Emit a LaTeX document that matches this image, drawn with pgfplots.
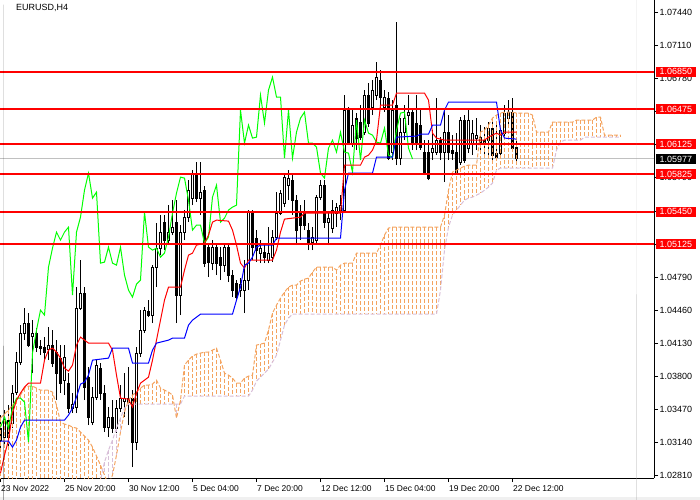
\documentclass[border=0pt]{standalone}
\usepackage{pgfplots}
\pgfplotsset{compat=1.18}
\usepackage{pgfplotstable}
\usepackage{fontspec}
\setmainfont{Liberation Sans}
\definecolor{sandy}{HTML}{F4A460}
\definecolor{thist}{HTML}{D8BFD8}
\definecolor{limeg}{HTML}{00FF00}
\definecolor{bidgray}{HTML}{C0C0C0}

\pgfplotstableread{
x o h l c
0 1.03285 1.03415 1.03065 1.03165
1 1.03195 1.03465 1.03115 1.03365
2 1.03365 1.03515 1.03095 1.03195
3 1.03335 1.03715 1.03285 1.03635
4 1.03645 1.04045 1.03615 1.03945
5 1.03945 1.04315 1.03915 1.04235
6 1.04235 1.04485 1.04165 1.04335
7 1.04335 1.04435 1.04095 1.04115
8 1.04205 1.04365 1.03835 1.04235
9 1.04235 1.04285 1.04045 1.04095
10 1.04105 1.04165 1.04015 1.04085
11 1.04095 1.04195 1.03965 1.04045
12 1.04075 1.04295 1.03965 1.04115
13 1.04115 1.04265 1.03895 1.03935
14 1.04045 1.04165 1.03565 1.03835
15 1.03985 1.04115 1.03635 1.03735
16 1.03765 1.04115 1.03615 1.03995
17 1.03735 1.03835 1.03435 1.03485
18 1.03485 1.03635 1.03435 1.03525
19 1.03495 1.04695 1.03435 1.04485
20 1.04485 1.04965 1.04465 1.04635
21 1.04635 1.04695 1.03565 1.03695
22 1.03795 1.03895 1.03315 1.03395
23 1.03345 1.03695 1.03315 1.03595
24 1.03595 1.03965 1.03565 1.03915
25 1.03885 1.03935 1.03565 1.03635
26 1.03635 1.03715 1.03245 1.03295
27 1.03295 1.03495 1.03195 1.03395
28 1.03395 1.03565 1.03235 1.03285
29 1.03285 1.03565 1.03235 1.03485
30 1.03485 1.03715 1.03445 1.03585
31 1.03555 1.03835 1.03395 1.03585
32 1.03585 1.03895 1.03315 1.03545
33 1.03585 1.03665 1.02895 1.03145
34 1.03145 1.04095 1.03065 1.04035
35 1.04035 1.04465 1.03995 1.04265
36 1.04265 1.04495 1.04235 1.04465
37 1.04455 1.04565 1.04395 1.04415
38 1.04415 1.04915 1.04335 1.04895
39 1.04895 1.05335 1.04695 1.05085
40 1.05085 1.05415 1.05015 1.05245
41 1.05345 1.05415 1.05065 1.05165
42 1.05165 1.05515 1.05115 1.05245
43 1.05245 1.05565 1.05215 1.05295
44 1.05345 1.05565 1.04335 1.04615
45 1.04615 1.05315 1.04415 1.05245
46 1.05245 1.05465 1.05165 1.05395
47 1.05395 1.05765 1.05345 1.05665
48 1.05585 1.05865 1.05515 1.05835
49 1.05815 1.05945 1.05545 1.05585
50 1.05585 1.05945 1.05415 1.05645
51 1.05665 1.05705 1.04895 1.04935
52 1.05095 1.05135 1.04795 1.04945
53 1.04935 1.05165 1.04865 1.05095
54 1.05095 1.05135 1.04815 1.04935
55 1.04995 1.05095 1.04765 1.04915
56 1.04915 1.05135 1.04845 1.05095
57 1.05095 1.05115 1.04745 1.04815
58 1.04815 1.04865 1.04595 1.04665
59 1.04735 1.04765 1.04565 1.04595
60 1.04665 1.04785 1.04595 1.04725
61 1.04665 1.04965 1.04435 1.04765
62 1.04765 1.05465 1.04665 1.05445
63 1.05445 1.05465 1.04965 1.05095
64 1.05185 1.05265 1.04945 1.05065
65 1.05035 1.05165 1.04935 1.05085
66 1.05045 1.05135 1.04935 1.04995
67 1.04965 1.05295 1.04935 1.05035
68 1.04995 1.05265 1.04945 1.05195
69 1.05195 1.05645 1.05165 1.05435
70 1.05435 1.05665 1.05415 1.05635
71 1.05535 1.05835 1.05495 1.05795
72 1.05715 1.05865 1.05565 1.05785
73 1.05765 1.05815 1.05415 1.05565
74 1.05565 1.05615 1.05115 1.05265
75 1.05435 1.05515 1.05165 1.05315
76 1.05435 1.05565 1.05265 1.05315
77 1.05265 1.05335 1.05065 1.05135
78 1.05145 1.05295 1.05065 1.05195
79 1.05165 1.05615 1.05115 1.05595
80 1.05595 1.05765 1.05565 1.05715
81 1.05715 1.05765 1.05285 1.05345
82 1.05345 1.05435 1.05115 1.05385
83 1.05285 1.05565 1.05235 1.05465
84 1.05435 1.05535 1.05295 1.05495
85 1.05465 1.05615 1.05365 1.05515
86 1.05465 1.06615 1.05435 1.06465
87 1.06465 1.06495 1.06115 1.06135
88 1.06135 1.06465 1.06095 1.06315
89 1.06385 1.06435 1.06065 1.06185
90 1.06345 1.06515 1.06165 1.06195
91 1.06245 1.06665 1.06215 1.06615
92 1.06615 1.06735 1.06295 1.06335
93 1.06495 1.06765 1.06415 1.06665
94 1.06615 1.06945 1.06565 1.06795
95 1.06765 1.06865 1.06465 1.06595
96 1.06495 1.06665 1.06445 1.06595
97 1.06585 1.06645 1.05965 1.05985
98 1.06045 1.06565 1.05965 1.06465
99 1.06515 1.07345 1.05915 1.05985
100 1.05985 1.06385 1.05915 1.06245
101 1.06245 1.06515 1.06165 1.06385
102 1.06415 1.06615 1.06315 1.06445
103 1.06445 1.06485 1.06065 1.06135
104 1.06335 1.06615 1.06065 1.06135
105 1.06315 1.06465 1.06065 1.06095
106 1.06045 1.06165 1.05815 1.05835
107 1.06045 1.06165 1.05765 1.05785
108 1.06045 1.06265 1.05965 1.06085
109 1.06045 1.06585 1.06015 1.06165
110 1.06165 1.06195 1.05965 1.06045
111 1.06045 1.06465 1.05745 1.06245
112 1.06245 1.06415 1.05965 1.06045
113 1.06065 1.06215 1.05965 1.06035
114 1.06045 1.06235 1.05835 1.05845
115 1.05945 1.06395 1.05915 1.06365
116 1.06365 1.06415 1.05935 1.05965
117 1.06085 1.06485 1.06035 1.06365
118 1.06135 1.06365 1.06015 1.06235
119 1.06185 1.06385 1.06065 1.06215
120 1.06195 1.06315 1.06065 1.06145
121 1.06165 1.06295 1.06015 1.06135
122 1.06165 1.06345 1.05985 1.06285
123 1.06285 1.06385 1.05965 1.06015
124 1.06035 1.06335 1.05965 1.05995
125 1.06035 1.06315 1.05995 1.06265
126 1.06235 1.06515 1.06195 1.06435
127 1.06385 1.06565 1.06315 1.06445
128 1.06445 1.06585 1.06045 1.06085
129 1.06095 1.06165 1.05935 1.05977
}\candles

\pgfplotstableread{
x a b
0 1.03385 1.02365
1 1.03425 1.02365
2 1.03465 1.02365
3 1.03515 1.02365
4 1.03565 1.02365
5 1.03615 1.02365
6 1.03685 1.02365
7 1.03705 1.02365
8 1.03705 1.02365
9 1.03685 1.02365
10 1.03665 1.02365
11 1.03665 1.02365
12 1.03665 1.02365
13 1.03645 1.02365
14 1.03515 1.02365
15 1.03345 1.02365
16 1.03325 1.02365
17 1.03315 1.02365
18 1.03295 1.02365
19 1.03285 1.02365
20 1.03245 1.02365
21 1.03205 1.02365
22 1.03165 1.02365
23 1.03095 1.02365
24 1.03005 1.02365
25 1.02915 1.02765
26 1.02815 1.02945
27 1.02715 1.03065
28 1.02815 1.03165
29 1.03015 1.03285
30 1.03245 1.03385
31 1.03445 1.03485
32 1.03565 1.03525
33 1.03615 1.03525
34 1.03645 1.03525
35 1.03685 1.03525
36 1.03715 1.03525
37 1.03715 1.03525
38 1.03725 1.03525
39 1.03765 1.03525
40 1.03685 1.03525
41 1.03665 1.03525
42 1.03645 1.03525
43 1.03615 1.03525
44 1.03385 1.03525
45 1.03565 1.03525
46 1.03915 1.03605
47 1.03965 1.03605
48 1.04005 1.03605
49 1.04025 1.03605
50 1.04035 1.03605
51 1.04045 1.03605
52 1.04045 1.03605
53 1.04065 1.03605
54 1.04085 1.03605
55 1.03965 1.03605
56 1.03835 1.03605
57 1.03815 1.03605
58 1.03785 1.03605
59 1.03735 1.03605
60 1.03735 1.03605
61 1.03785 1.03605
62 1.03805 1.03605
63 1.03815 1.03665
64 1.04115 1.03755
65 1.04125 1.03795
66 1.04135 1.03835
67 1.04265 1.03875
68 1.04435 1.03945
69 1.04515 1.04015
70 1.04585 1.04165
71 1.04645 1.04315
72 1.04695 1.04385
73 1.04715 1.04425
74 1.04715 1.04425
75 1.04755 1.04425
76 1.04775 1.04425
77 1.04785 1.04425
78 1.04845 1.04425
79 1.04895 1.04425
80 1.04895 1.04425
81 1.04895 1.04425
82 1.04895 1.04425
83 1.04895 1.04425
84 1.04865 1.04425
85 1.04915 1.04425
86 1.04935 1.04425
87 1.04935 1.04425
88 1.04935 1.04425
89 1.05035 1.04425
90 1.05035 1.04425
91 1.05035 1.04425
92 1.05035 1.04425
93 1.05035 1.04425
94 1.05035 1.04425
95 1.05115 1.04425
96 1.05215 1.04425
97 1.05285 1.04425
98 1.05295 1.04425
99 1.05295 1.04425
100 1.05295 1.04425
101 1.05295 1.04425
102 1.05295 1.04425
103 1.05295 1.04425
104 1.05295 1.04425
105 1.05295 1.04425
106 1.05295 1.04425
107 1.05295 1.04425
108 1.05295 1.04425
109 1.05295 1.04425
110 1.05295 1.04665
111 1.05415 1.05065
112 1.05665 1.05295
113 1.05845 1.05415
114 1.05865 1.05465
115 1.05885 1.05515
116 1.05905 1.05565
117 1.05915 1.05585
118 1.05915 1.05595
119 1.05915 1.05615
120 1.06245 1.05635
121 1.06265 1.05665
122 1.06315 1.05695
123 1.06385 1.05735
124 1.06415 1.05865
125 1.06435 1.05885
126 1.06445 1.05885
127 1.06445 1.05885
128 1.06445 1.05885
129 1.06435 1.05885
130 1.06435 1.05885
131 1.06435 1.05885
132 1.06435 1.05885
133 1.06415 1.05885
134 1.06245 1.05885
135 1.06245 1.05885
136 1.06245 1.05885
137 1.06245 1.05885
138 1.06345 1.05885
139 1.06345 1.06065
140 1.06345 1.06145
141 1.06345 1.06165
142 1.06345 1.06165
143 1.06345 1.06165
144 1.06365 1.06165
145 1.06365 1.06165
146 1.06365 1.06195
147 1.06365 1.06195
148 1.06365 1.06195
149 1.06395 1.06195
150 1.06395 1.06195
151 1.06215 1.06195
152 1.06215 1.06195
153 1.06215 1.06195
154 1.06215 1.06195
155 1.06215 1.06195
}\spans

\pgfplotstableread{
x y
0 1.03295
1 1.03395
2 1.03285
3 1.03485
4 1.03585
5 1.03585
6 1.03545
7 1.03145
8 1.04035
9 1.04265
10 1.04465
11 1.04415
12 1.04895
13 1.05085
14 1.05245
15 1.05165
16 1.05245
17 1.05295
18 1.04615
19 1.05245
20 1.05395
21 1.05665
22 1.05835
23 1.05585
24 1.05645
25 1.04935
26 1.04945
27 1.05095
28 1.04935
29 1.04915
30 1.05095
31 1.04815
32 1.04665
33 1.04595
34 1.04725
35 1.04765
36 1.05445
37 1.05095
38 1.05065
39 1.05085
40 1.04995
41 1.05035
42 1.05195
43 1.05435
44 1.05635
45 1.05795
46 1.05785
47 1.05565
48 1.05265
49 1.05315
50 1.05315
51 1.05135
52 1.05195
53 1.05595
54 1.05715
55 1.05345
56 1.05385
57 1.05465
58 1.05495
59 1.05515
60 1.06465
61 1.06135
62 1.06315
63 1.06185
64 1.06195
65 1.06615
66 1.06335
67 1.06665
68 1.06795
69 1.06595
70 1.06595
71 1.05985
72 1.06465
73 1.05985
74 1.06245
75 1.06385
76 1.06445
77 1.06135
78 1.06135
79 1.06095
80 1.05835
81 1.05785
82 1.06085
83 1.06165
84 1.06045
85 1.06245
86 1.06045
87 1.06035
88 1.05845
89 1.06365
90 1.05965
91 1.06365
92 1.06235
93 1.06215
94 1.06145
95 1.06135
96 1.06285
97 1.06015
98 1.05995
99 1.06265
100 1.06435
101 1.06445
102 1.06085
103 1.05977
}\chikou

\pgfplotstableread{
x y
0 1.02835
1 1.03015
2 1.03165
3 1.03435
4 1.03565
5 1.03635
6 1.03695
7 1.03735
10 1.03735
11 1.03965
12 1.04065
13 1.04085
14 1.04045
15 1.03985
16 1.03885
17 1.03855
18 1.03915
19 1.04115
20 1.04195
21 1.04165
22 1.04135
27 1.04135
28 1.04065
29 1.03815
30 1.03585
32 1.03575
33 1.03495
34 1.03635
35 1.03735
37 1.03795
38 1.03965
39 1.04165
40 1.04365
41 1.04565
42 1.04695
45 1.04695
46 1.04865
47 1.05015
48 1.05035
49 1.05115
51 1.05135
52 1.05215
53 1.05345
54 1.05365
57 1.05355
58 1.05265
59 1.05115
60 1.04935
61 1.04885
62 1.04965
68 1.04965
69 1.05065
70 1.05245
71 1.05375
75 1.05395
76 1.05435
85 1.05435
86 1.05915
90 1.05915
91 1.05995
92 1.06015
93 1.06065
94 1.06165
95 1.06515
98 1.06515
99 1.06635
106 1.06635
107 1.06565
108 1.06235
109 1.06185
111 1.06165
121 1.06165
122 1.06195
124 1.06235
125 1.06215
126 1.06245
129 1.06245
}\tenkan

\pgfplotstableread{
x y
0 1.03155
2 1.03155
3 1.03095
4 1.03165
5 1.03295
6 1.03365
16 1.03365
17 1.03415
18 1.03485
19 1.03595
20 1.03725
21 1.03745
22 1.03815
23 1.03965
27 1.03985
28 1.04085
32 1.04085
33 1.03935
37 1.03935
38 1.04065
39 1.04135
42 1.04165
43 1.04185
46 1.04185
47 1.04315
48 1.04365
49 1.04395
50 1.04425
58 1.04425
59 1.04565
60 1.04695
61 1.04915
62 1.04935
63 1.04995
64 1.05095
65 1.05115
68 1.05115
69 1.05185
85 1.05185
86 1.05665
87 1.05835
93 1.05835
94 1.05995
98 1.05995
99 1.06195
104 1.06205
105 1.06225
107 1.06225
108 1.06315
110 1.06315
111 1.06465
112 1.06545
124 1.06545
125 1.06265
126 1.06185
129 1.06175
}\kijun

\begin{document}
\begin{tikzpicture}
\useasboundingbox (0,0) rectangle (700bp,500bp);
\fill[black!6] (0,0) rectangle (700bp,3.3bp);
\begin{axis}[
  at={(0,500bp)}, anchor=north west,
  scale only axis, width=654bp, height=478bp,
  xmin=-0.125, xmax=163.375, ymin=1.02785, ymax=1.07565,
  axis x line*=bottom, axis y line*=right,
  axis line style={black, line width=1bp, -},
  tick align=outside, major tick length=4bp,
  tick style={black, line width=0.8bp},
  xtick={0,16,32,48,64,80,96,112,128},
  xticklabels={23 Nov 2022,25 Nov 20:00,30 Nov 12:00,5 Dec 04:00,7 Dec 20:00,12 Dec 12:00,15 Dec 04:00,19 Dec 20:00,22 Dec 12:00},
  xticklabel style={anchor=north west, inner sep=0pt, xshift=0.5bp, yshift=-3bp, font=\fontsize{8.5}{10}\selectfont},
  ytick={1.02810,1.03140,1.03470,1.03800,1.04130,1.04460,1.04790,1.05120,1.05450,1.05790,1.06120,1.06450,1.06780,1.07110,1.07440},
  yticklabels={1.02810,1.03140,1.03470,1.03800,1.04130,1.04460,1.04790,1.05120,1.05450,1.05790,1.06120,1.06450,1.06780,1.07110,1.07440},
  yticklabel style={anchor=west, inner sep=0pt, xshift=1.5bp, font=\fontsize{9}{10}\selectfont},
  scaled y ticks=false,
  clip mode=individual,
]
% bid line
\addplot[bidgray, line width=1bp, forget plot] coordinates {(-0.125,1.05977) (163.375,1.05977)};
% candles: wicks
\addplot[draw=none, forget plot, error bars/.cd, y dir=plus, y explicit, error mark=none,
  error bar style={draw=black, line width=1bp, solid}]
  table[x=x, y=l, y error plus expr={\thisrow{h}-\thisrow{l}}] {\candles};
% bodies
\addplot[draw=none, forget plot, error bars/.cd, y dir=plus, y explicit, error mark=none,
  error bar style={draw=black, line width=3bp, solid}]
  table[x=x, y expr={min(\thisrow{o},\thisrow{c})-0.00005}, y error plus expr={abs(\thisrow{c}-\thisrow{o})+0.0001}] {\candles};
% bullish interiors
\addplot[draw=none, forget plot, error bars/.cd, y dir=plus, y explicit, error mark=none,
  error bar style={draw=white, line width=1bp, solid}]
  table[x=x, y expr={\thisrow{o}+0.00005}, y error plus expr={max(\thisrow{c}-\thisrow{o}-0.0001,0)}] {\candles};
% cloud histogram (drawn from the top edge downward)
\addplot[draw=none, forget plot, error bars/.cd, y dir=minus, y explicit, error mark=none,
  error bar style={draw=sandy, line width=1bp, dash pattern=on 4bp off 2bp}]
  table[x=x, y=a, y error minus expr={max(\thisrow{a}-\thisrow{b},0)}] {\spans};
\addplot[draw=none, forget plot, error bars/.cd, y dir=minus, y explicit, error mark=none,
  error bar style={draw=thist, line width=1bp, dash pattern=on 4bp off 2bp}]
  table[x=x, y=b, y error minus expr={max(\thisrow{b}-\thisrow{a},0)}] {\spans};
\addplot[sandy, line width=1bp, dash pattern=on 4bp off 2bp, forget plot] table[x=x, y=a] {\spans};
\addplot[thist, line width=1bp, dash pattern=on 4bp off 2bp, forget plot] table[x=x, y=b] {\spans};
% Ichimoku lines
\addplot[limeg, line width=1bp, forget plot] table[x=x, y=y] {\chikou};
\addplot[red, line width=1bp, forget plot] table[x=x, y=y] {\tenkan};
\addplot[blue, line width=1bp, forget plot] table[x=x, y=y] {\kijun};
% levels
\addplot[red, line width=2bp, forget plot] coordinates {(-0.125,1.06850) (163.375,1.06850)};
\addplot[red, line width=2bp, forget plot] coordinates {(-0.125,1.06475) (163.375,1.06475)};
\addplot[red, line width=2bp, forget plot] coordinates {(-0.125,1.06125) (163.375,1.06125)};
\addplot[red, line width=2bp, forget plot] coordinates {(-0.125,1.05825) (163.375,1.05825)};
\addplot[red, line width=2bp, forget plot] coordinates {(-0.125,1.05450) (163.375,1.05450)};
\addplot[red, line width=2bp, forget plot] coordinates {(-0.125,1.05125) (163.375,1.05125)};
% price labels
\tikzset{plab/.style={anchor=west, inner xsep=3.5bp, inner ysep=0pt, minimum height=10bp, text=white, xshift=2bp, font=\fontsize{9}{10}\selectfont}}
\node[plab, fill=red] at (axis cs:163.375,1.06850) {1.06850};
\node[plab, fill=red] at (axis cs:163.375,1.06475) {1.06475};
\node[plab, fill=red] at (axis cs:163.375,1.06125) {1.06125};
\node[plab, fill=black] at (axis cs:163.375,1.05977) {1.05977};
\node[plab, fill=red] at (axis cs:163.375,1.05825) {1.05825};
\node[plab, fill=red] at (axis cs:163.375,1.05450) {1.05450};
\node[plab, fill=red] at (axis cs:163.375,1.05125) {1.05125};
% title
\fill[black] ([xshift=3bp,yshift=-4.5bp]rel axis cs:0,1) -- ++(7bp,0) -- ++(-3.5bp,-3.5bp) -- cycle;
\node[anchor=base west, inner sep=0pt, font=\fontsize{9}{10}\selectfont] at ([xshift=16bp,yshift=-10bp]rel axis cs:0,1) {EURUSD,H4};
\fill[black!35] ([xshift=-18bp]rel axis cs:1,1) -- ++(8bp,0) -- ++(-4bp,-5bp) -- cycle;
\end{axis}
\end{tikzpicture}
\end{document}
